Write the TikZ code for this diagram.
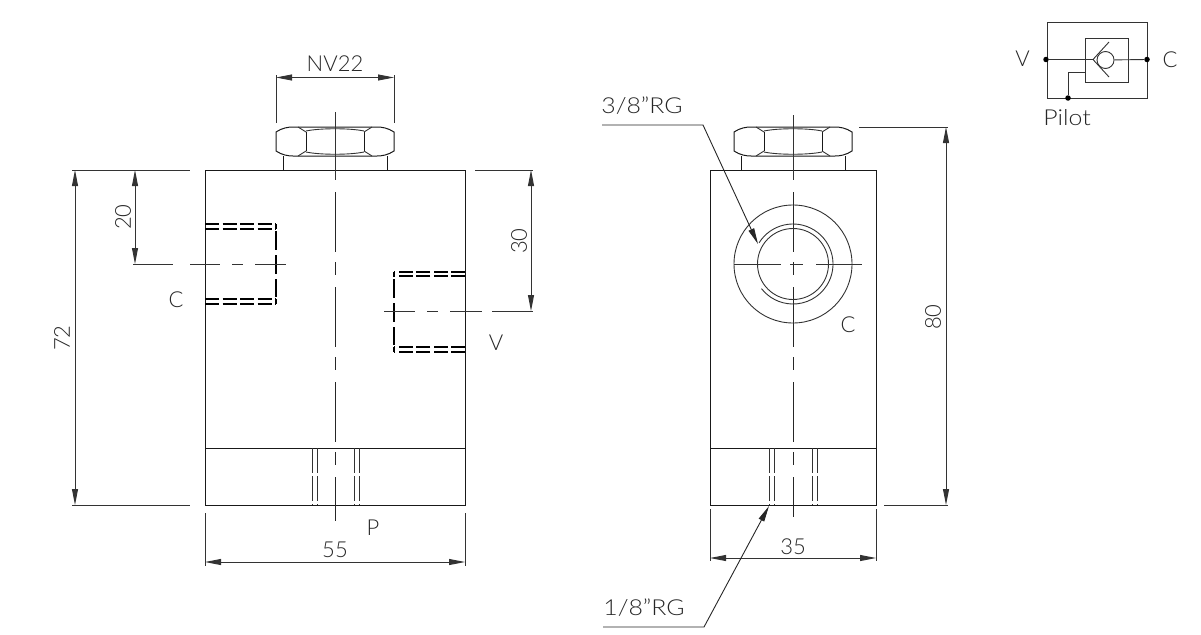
\documentclass[tikz,border=0pt]{standalone}
\usepackage{fontspec}
\setmainfont{Lato}[UprightFont=* Light]
\usetikzlibrary{arrows.meta}
\tikzset{
    outline/.style={line width=1pt,black!90},
    thinline/.style={line width=0.9pt,black!80},
    hidden/.style={line width=1.4pt,black,dash pattern=on 14pt off 3.5pt},
    hiddenside/.style={line width=1.3pt,black,dash pattern=on 19pt off 5pt},
    hiddenthin/.style={line width=0.9pt,black!80,dash pattern=on 25pt off 3pt},
    axisline/.style={line width=0.9pt,black!85,dash pattern=on 60pt off 10pt on 13pt off 12pt},
    dimline/.style={line width=0.9pt,black!80,{Triangle[length=16pt,width=6pt]}-{Triangle[length=16pt,width=6pt]}},
    leaderline/.style={line width=0.9pt,black!85,-{Triangle[length=16pt,width=6pt]}},
    label/.style={inner sep=0pt,font=\fontsize{22}{22}\selectfont,text=black!85},
    widelabel/.style={label,xscale=1.13},
    junction/.style={circle,fill=black,inner sep=0pt,minimum size=5.5pt}
}
% hex nut, origin on the axis at the top of the nut
\newcommand{\hexnut}[2]{
    \begin{scope}[shift={(#1,#2)}]
        \draw[outline] (-59,5) .. controls (-53,1) and (-47,0) .. (-42,0) -- (42,0) .. controls (47,0) and (53,1) .. (59,5) -- (59,24) .. controls (53,28) and (47,29) .. (42,29) -- (-42,29) .. controls (-47,29) and (-53,28) .. (-59,24) -- cycle;
        \draw[outline] (-29,5) -- (-29,24) (29,5) -- (29,24);
        \draw[thinline] (-29,4) .. controls (-15,1) and (15,1) .. (29,4);
        \draw[thinline] (-29,25) .. controls (-15,28) and (15,28) .. (29,25);
        \draw[thinline] (-37,0) -- (-29,5) (37,0) -- (29,5) (-37,29) -- (-29,24) (37,29) -- (29,24);
        \draw[outline] (-52,29) -- (-52,43) (52,29) -- (52,43);
    \end{scope}
}
\begin{document}
\begin{tikzpicture}[x=1pt,y=-1pt]
    \useasboundingbox (0,0) rectangle (1201,634);

    %%LEFT VIEW
    \hexnut{335}{127}
    % Body
    \draw[outline] (205,170) rectangle (465,505);
    \draw[outline] (205,448) -- (465,448);
    % Axis
    \draw[thinline] (335,112) -- (335,180);
    \draw[axisline] (335,192) -- (335,521);
    % Port C
    \draw[hidden] (205,224) -- (276,224) (205,304) -- (276,304);
    \draw[hidden] (205,229) -- (276,229) (205,299) -- (276,299);
    \draw[hiddenside] (276,231) -- (276,297);
    \draw[hiddenside] (276,224) -- (276,229) (276,299) -- (276,304);
    \draw[thinline] (133,264) -- (173,264) (190,264) -- (220,264) (232,264) -- (243,264) (255,264) -- (286,264);
    % Port V
    \draw[hidden] (465,272) -- (394,272) (465,352) -- (394,352);
    \draw[hidden] (465,276) -- (394,276) (465,347) -- (394,347);
    \draw[hiddenside] (394,279) -- (394,345);
    \draw[hiddenside] (394,272) -- (394,277) (394,347) -- (394,352);
    \draw[thinline] (384,311) -- (415,311) (427,311) -- (438,311) (450,311) -- (482,311) (492,311) -- (533,311);
    % Port P
    \foreach \px in {312,317,354,359}{
        \draw[hiddenthin] (\px,448) -- (\px,505);
    }

    %%RIGHT VIEW
    \hexnut{793}{127}
    \draw[outline] (710,170) rectangle (876,505);
    \draw[outline] (710,448) -- (876,448);
    \draw[thinline] (793,115) -- (793,180);
    \draw[axisline] (793,192) -- (793,517);
    % Port C
    \draw[thinline] (793,264) circle (59);
    \draw[thinline] (793,264) circle (35.5);
    \draw[thinline] (793,264) ++(212:40) arc (212:502:40);
    \draw[thinline] (734,264) -- (781,264) (790,264) -- (803,264) (816,264) -- (862,264);
    % Port P
    \foreach \px in {769,774,812,817}{
        \draw[hiddenthin] (\px,448) -- (\px,505);
    }

    %%DIMENSIONS
    % NV22
    \draw[thinline] (276,75) -- (276,123) (394,75) -- (394,123);
    \draw[dimline] (276,77.5) -- (394,77.5);
    \node[label] (nv) at (335,64) {NV22};
    % 72
    \draw[thinline] (72,170) -- (190,170) (72,505) -- (190,505);
    \draw[dimline] (75,170) -- (75,505);
    \node[label,rotate=90] (dimA) at (62,338) {72};
    % 20
    \draw[dimline] (135,170) -- (135,264);
    \node[label,rotate=90] (dimB) at (123,217) {20};
    % 30
    \draw[thinline] (475,170) -- (533,170);
    \draw[dimline] (531,170) -- (531,311);
    \node[label,rotate=90] (dimC) at (519,241) {30};
    % 55
    \draw[thinline] (205,513) -- (205,566) (465,513) -- (465,566);
    \draw[dimline] (205,562) -- (465,562);
    \node[label] (dimD) at (335,550) {55};
    % 80
    \draw[thinline] (859,127) -- (948,127) (884,505) -- (948,505);
    \draw[dimline] (946,127) -- (946,505);
    \node[label,rotate=90] (dimE) at (933,317) {80};
    % 35
    \draw[thinline] (710,509) -- (710,561) (876,509) -- (876,561);
    \draw[dimline] (710,558) -- (876,558);
    \node[label] (dimF) at (793,547) {35};

    %%LEADERS
    \node[widelabel] (rgA) at (642,106) {3/8"RG};
    \coordinate (rgAend) at (758,244);
    \draw[leaderline] (602,125) -- (703,125) -- (rgAend);
    \node[widelabel] (rgB) at (644,608) {1/8"RG};
    \coordinate (rgBend) at (769,506);
    \draw[leaderline] (603,627) -- (704,627) -- (rgBend);

    %%PORT LABELS
    \node[label] (portCa) at (176,300) {C};
    \node[label] (portV) at (496,343) {V};
    \node[label] (portP) at (373,528) {P};
    \node[label] (portCb) at (848,325) {C};

    %%SYMBOL
    \draw[thinline] (1047,22) rectangle (1147,98);
    \draw[thinline] (1085,38) rectangle (1128,82);
    \node[junction] (symV) at (1046,59.5) {};
    \node[junction] (symC) at (1147,59.5) {};
    \node[junction] (symP) at (1068,98) {};
    \node[circle,draw=black!80,line width=0.9pt,inner sep=0pt,minimum size=17pt] (ball) at (1105.5,60) {};
    \coordinate (seat) at (1093,59.5);
    \draw[thinline] (symV) -- (seat);
    \draw[thinline] (ball) -- (symC);
    \draw[thinline] (1109,42) -- (seat) -- (1109,77);
    \draw[thinline] (symP) -- (1068,72) -- (1085,72);
    \node[label] (symVt) at (1022.5,59) {V};
    \node[label] (symCt) at (1170,60) {C};
    \node[widelabel] (symPt) at (1067,118) {Pilot};
\end{tikzpicture}
\end{document}
